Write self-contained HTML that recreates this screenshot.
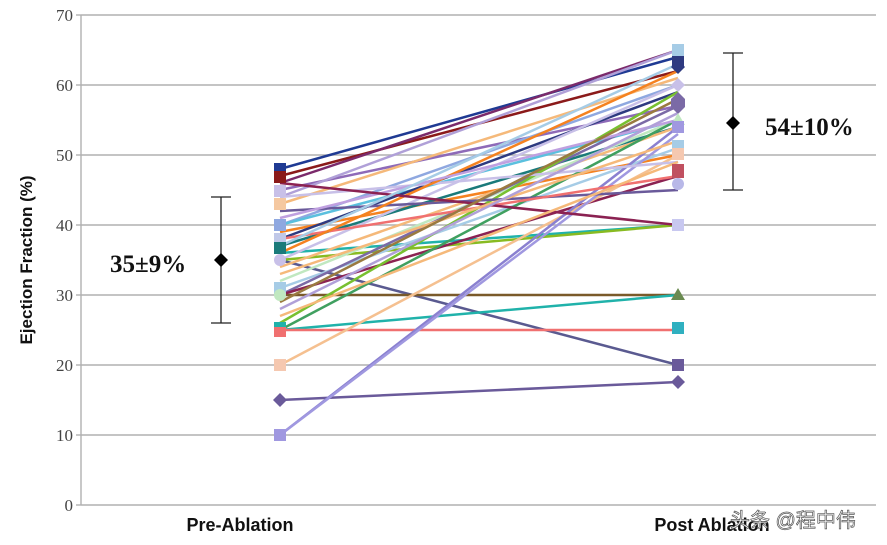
<!DOCTYPE html>
<html><head><meta charset="utf-8"><style>body{margin:0;background:#fff}svg{display:block}</style></head><body>
<svg width="887" height="545" viewBox="0 0 887 545" xmlns="http://www.w3.org/2000/svg">
<g stroke="#b0b0b0" stroke-width="1.4">
<line x1="81" y1="15" x2="876" y2="15"/><line x1="81" y1="85" x2="876" y2="85"/><line x1="81" y1="155" x2="876" y2="155"/><line x1="81" y1="225" x2="876" y2="225"/><line x1="81" y1="295" x2="876" y2="295"/><line x1="81" y1="365" x2="876" y2="365"/><line x1="81" y1="435" x2="876" y2="435"/><line x1="81" y1="505" x2="876" y2="505"/>
<line x1="81" y1="15" x2="81" y2="505"/>
<line x1="76" y1="15" x2="81" y2="15"/><line x1="76" y1="85" x2="81" y2="85"/><line x1="76" y1="155" x2="81" y2="155"/><line x1="76" y1="225" x2="81" y2="225"/><line x1="76" y1="295" x2="81" y2="295"/><line x1="76" y1="365" x2="81" y2="365"/><line x1="76" y1="435" x2="81" y2="435"/><line x1="76" y1="505" x2="81" y2="505"/>
</g>
<g font-family="Liberation Serif,serif" font-size="17" fill="#444" text-anchor="end">
<text x="73" y="21">70</text><text x="73" y="91">60</text><text x="73" y="161">50</text><text x="73" y="231">40</text><text x="73" y="301">30</text><text x="73" y="371">20</text><text x="73" y="441">10</text><text x="73" y="511">0</text>
</g>
<text transform="translate(32,260) rotate(-90)" text-anchor="middle" font-family="Liberation Sans,sans-serif" font-weight="bold" font-size="17" fill="#111">Ejection Fraction (%)</text>
<g font-family="Liberation Sans,sans-serif" font-weight="bold" font-size="18" fill="#111" text-anchor="middle">
<text x="240" y="531">Pre-Ablation</text><text x="712" y="531">Post Ablation</text>
</g>
<g stroke-width="2.5" fill="none">
<line x1="280" y1="169" x2="678" y2="57" stroke="#1f3a93"/>
<line x1="280" y1="176" x2="678" y2="71" stroke="#8b1a1a"/>
<line x1="280" y1="183" x2="678" y2="50" stroke="#7b2a6b"/>
<line x1="280" y1="190" x2="678" y2="106" stroke="#8e6ab8"/>
<line x1="280" y1="197" x2="678" y2="50" stroke="#b0a0d8"/>
<line x1="280" y1="204" x2="678" y2="78" stroke="#f5b97a"/>
<line x1="280" y1="225" x2="678" y2="85" stroke="#8fa8e0"/>
<line x1="280" y1="225" x2="678" y2="120" stroke="#5bc0de"/>
<line x1="280" y1="232" x2="678" y2="155" stroke="#f58220"/>
<line x1="280" y1="239" x2="678" y2="92" stroke="#2e3a80"/>
<line x1="280" y1="246" x2="678" y2="127" stroke="#1a7a7a"/>
<line x1="280" y1="253" x2="678" y2="225" stroke="#20b2aa"/>
<line x1="280" y1="260" x2="678" y2="365" stroke="#5a5a90"/>
<line x1="280" y1="260" x2="678" y2="85" stroke="#c8c0e8"/>
<line x1="280" y1="260" x2="678" y2="225" stroke="#88bb22"/>
<line x1="280" y1="267" x2="678" y2="127" stroke="#f5b97a"/>
<line x1="280" y1="281" x2="678" y2="120" stroke="#c0e8c0"/>
<line x1="280" y1="288" x2="678" y2="148" stroke="#a6cce6"/>
<line x1="280" y1="295" x2="678" y2="106" stroke="#7b6aa6"/>
<line x1="280" y1="295" x2="678" y2="295" stroke="#7a5a2a"/>
<line x1="280" y1="295" x2="678" y2="176" stroke="#8b2252"/>
<line x1="280" y1="323" x2="678" y2="92" stroke="#78c030"/>
<line x1="280" y1="330" x2="678" y2="295" stroke="#20b2aa"/>
<line x1="280" y1="330" x2="678" y2="330" stroke="#f07070"/>
<line x1="280" y1="330" x2="678" y2="120" stroke="#40a060"/>
<line x1="280" y1="365" x2="678" y2="155" stroke="#f5c090"/>
<line x1="280" y1="400" x2="678" y2="382" stroke="#6a5a9a"/>
<line x1="280" y1="435" x2="678" y2="127" stroke="#8a80d0"/>
<line x1="280" y1="435" x2="678" y2="134" stroke="#a098e0"/>
<line x1="280" y1="211" x2="678" y2="190" stroke="#6a5a9a"/>
<line x1="280" y1="197" x2="678" y2="162" stroke="#c8c0e8"/>
<line x1="280" y1="239" x2="678" y2="176" stroke="#f07070"/>
<line x1="280" y1="253" x2="678" y2="71" stroke="#f58220"/>
<line x1="280" y1="218" x2="678" y2="120" stroke="#bfa0e0"/>
<line x1="280" y1="183" x2="678" y2="225" stroke="#8b2252"/>
<line x1="280" y1="274" x2="678" y2="141" stroke="#f5b97a"/>
<line x1="280" y1="302" x2="678" y2="99" stroke="#9a7a40"/>
<line x1="280" y1="309" x2="678" y2="113" stroke="#b0a0d8"/>
<line x1="280" y1="246" x2="678" y2="64" stroke="#a6cce6"/>
<line x1="280" y1="316" x2="678" y2="162" stroke="#f5b97a"/>
</g>
<g>
<rect x="274" y="163" width="12" height="12" fill="#1f3a93"/><rect x="274" y="171" width="12" height="12" fill="#8b1a1a"/><rect x="274" y="185" width="12" height="12" fill="#c8c0e8"/><rect x="274" y="198" width="12" height="12" fill="#f5c8a0"/><rect x="274" y="219" width="12" height="12" fill="#8fa8e0"/><rect x="274" y="233" width="12" height="12" fill="#c0c8e8"/><rect x="274" y="242" width="12" height="12" fill="#1a7a7a"/><circle cx="280" cy="260" r="6" fill="#c8c0e8"/><rect x="274" y="282" width="12" height="12" fill="#a6cce6"/><circle cx="280" cy="295" r="6" fill="#c0e8c0"/><rect x="274" y="322" width="12" height="12" fill="#20b2aa"/><rect x="274" y="327" width="12" height="10" fill="#f07070"/><rect x="274" y="359" width="12" height="12" fill="#f5c8b0"/><path d="M280 393l7 7-7 7-7-7z" fill="#6a5a9a"/><rect x="274" y="429" width="12" height="12" fill="#a098e0"/>
<rect x="672" y="44" width="12" height="12" fill="#a6cce6"/><rect x="672" y="56" width="12" height="10" fill="#2e3a80"/><path d="M678 60l7 7-7 7-7-7z" fill="#2e3a80"/><path d="M678 78l7 7-7 7-7-7z" fill="#c8c0e8"/><path d="M678 92l7 7v8l-7 7-7-7v-8z" fill="#7b6aa6"/><path d="M678 113l7 12h-14z" fill="#c0e8c0"/><rect x="672" y="121" width="12" height="12" fill="#a098e0"/><rect x="672" y="140" width="12" height="12" fill="#a6cce6"/><rect x="672" y="148" width="12" height="12" fill="#f5c8b0"/><rect x="672" y="164" width="12" height="14" fill="#c05060"/><circle cx="678" cy="184" r="6" fill="#b8b8e8"/><rect x="672" y="219" width="12" height="12" fill="#c8c8f0"/><path d="M678 288l7 12h-14z" fill="#6a8a50"/><rect x="672" y="322" width="12" height="12" fill="#30b0c0"/><rect x="672" y="359" width="12" height="12" fill="#6a5a9a"/><path d="M678 375l7 7-7 7-7-7z" fill="#6a5a9a"/>
</g>
<g stroke="#222" stroke-width="1.3">
<line x1="221" y1="197" x2="221" y2="323"/><line x1="211" y1="197" x2="231" y2="197"/><line x1="211" y1="323" x2="231" y2="323"/>
<line x1="733" y1="53" x2="733" y2="190"/><line x1="723" y1="53" x2="743" y2="53"/><line x1="723" y1="190" x2="743" y2="190"/>
</g>
<path d="M221 253l7 7-7 7-7-7z" fill="#000"/><path d="M733 116l7 7-7 7-7-7z" fill="#000"/>
<g font-family="Liberation Serif,serif" font-weight="bold" font-size="25" fill="#111">
<text x="110" y="272">35±9%</text><text x="765" y="135">54±10%</text>
</g>
<text x="730" y="527" font-family="Liberation Sans,Noto Sans CJK SC,sans-serif" font-size="20" fill="#fff" stroke="#555" stroke-width="0.7">头条 @程中伟</text>
</svg>
</body></html>
